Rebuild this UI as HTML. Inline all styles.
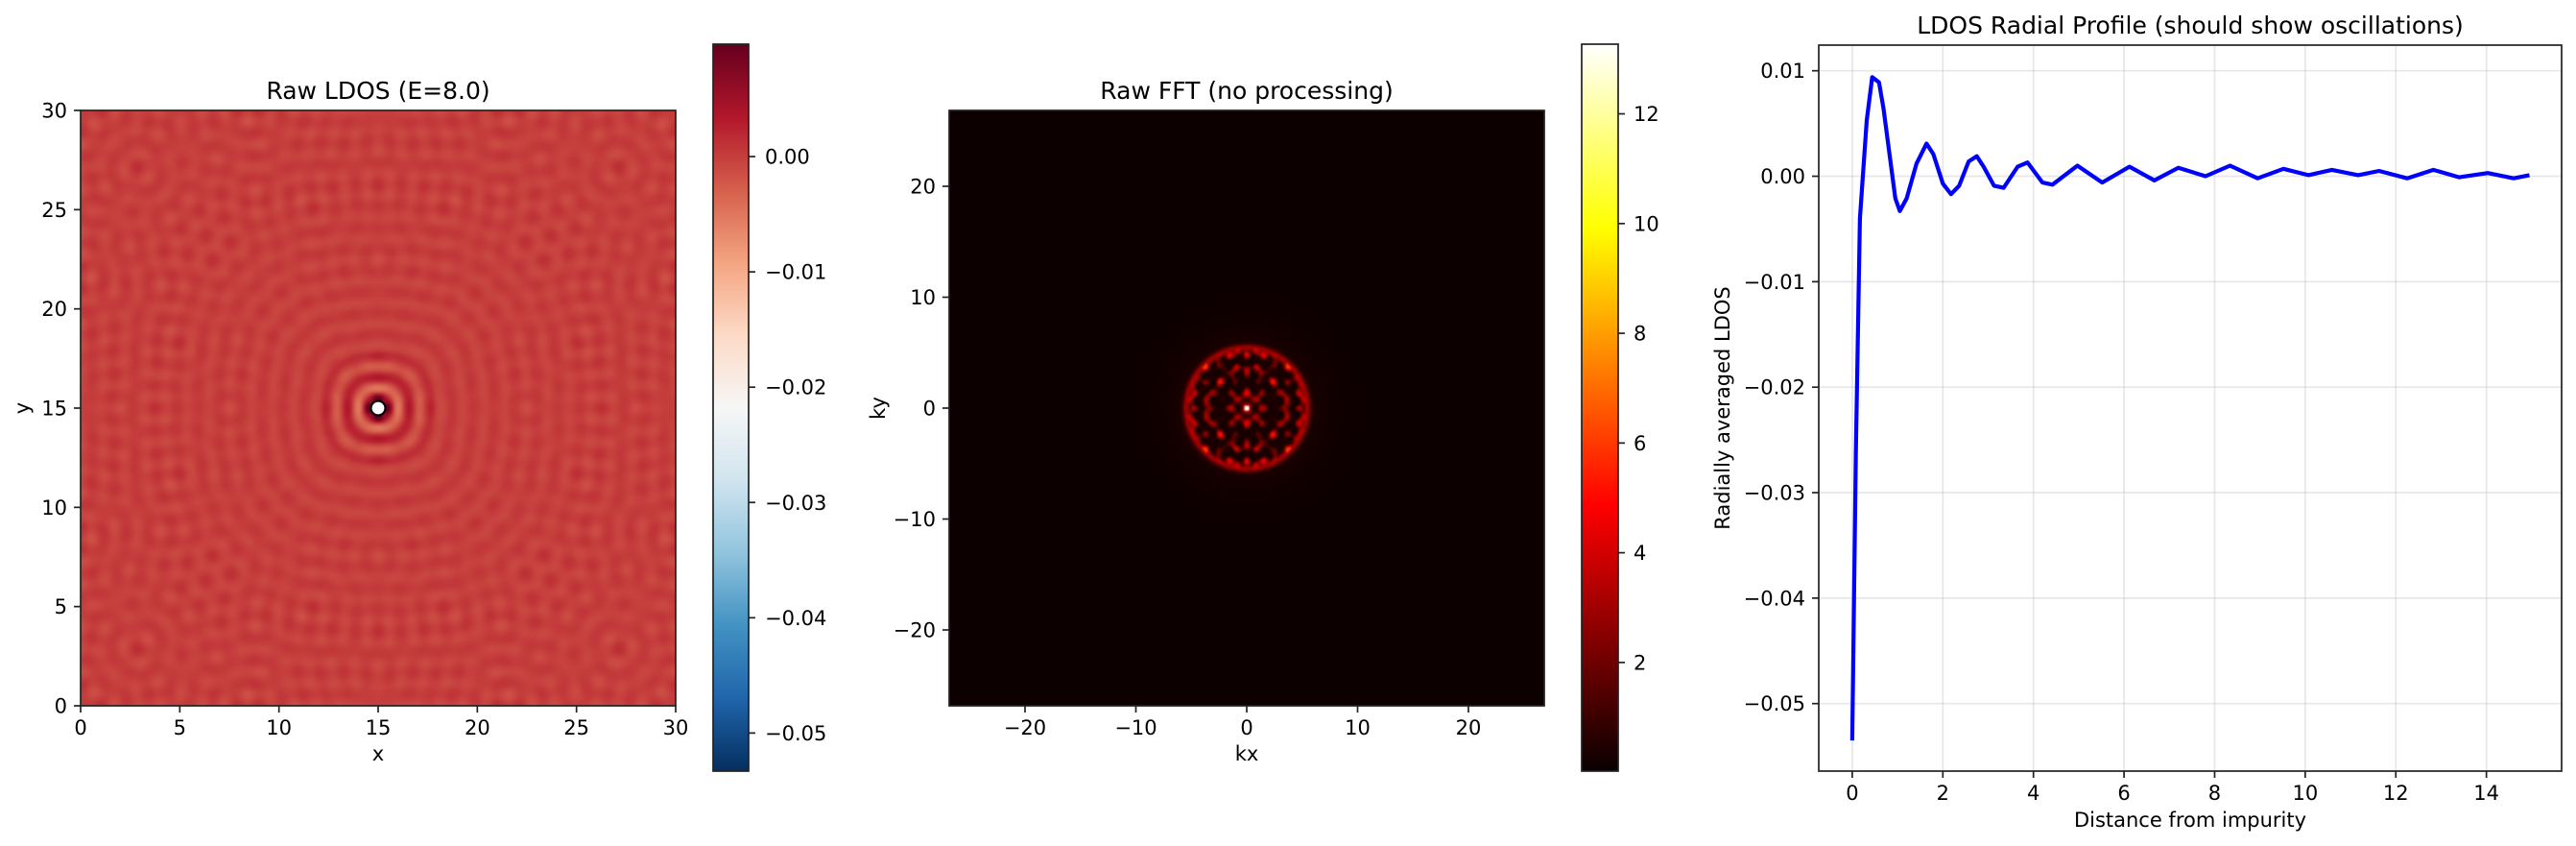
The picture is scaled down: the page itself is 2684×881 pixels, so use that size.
<!DOCTYPE html>
<html><head><meta charset="utf-8">
<style>
html,body{margin:0;padding:0;background:#fff;}
#fig{position:relative;width:2684px;height:881px;overflow:hidden;font-family:"DejaVu Sans","Liberation Sans",sans-serif;}
canvas{position:absolute;}
svg{position:absolute;left:0;top:0;}
</style></head>
<body>
<div id="fig">
<canvas id="c1" width="620" height="620" style="left:84px;top:115px;width:620px;height:620px"></canvas>
<canvas id="cb1" width="37" height="757" style="left:743px;top:46px;width:37px;height:757px"></canvas>
<canvas id="c2" width="620" height="620" style="left:989px;top:115px;width:620px;height:620px"></canvas>
<canvas id="cb2" width="38" height="757" style="left:1648px;top:46px;width:38px;height:757px"></canvas>
<svg id="s" width="2684" height="881"></svg>
</div>
<script>
// ---- data: radial profile ----
const radialDistance = [0,0.08,0.17,0.32,0.44,0.59,0.69,0.95,1.05,1.2,1.42,1.64,1.79,2.0,2.18,2.36,2.57,2.75,2.9,3.13,3.34,3.65,3.87,4.2,4.42,4.97,5.52,6.12,6.67,7.2,7.8,8.34,8.95,9.52,10.07,10.59,11.17,11.63,12.25,12.83,13.4,14.03,14.6,14.95];
const radialLDOS = [-0.0535,-0.026,-0.004,0.0053,0.0094,0.0089,0.0064,-0.0021,-0.0033,-0.0021,0.0012,0.0031,0.0021,-0.0007,-0.0017,-0.0009,0.0014,0.0019,0.0009,-0.0009,-0.0011,0.0009,0.0013,-0.0006,-0.0008,0.0010,-0.0006,0.0009,-0.0004,0.0008,0.0,0.0010,-0.0002,0.0007,0.0001,0.0006,0.0001,0.0005,-0.0002,0.0006,-0.0001,0.0003,-0.0002,0.0001];
const p3XTicks = [0,2,4,6,8,10,12,14];
const p3YTicks = [0.01,0.00,-0.01,-0.02,-0.03,-0.04,-0.05];
const p1Ticks = [0,5,10,15,20,25,30];
const p2Ticks = [-20,-10,0,10,20];
const cb1Ticks = [0.00,-0.01,-0.02,-0.03,-0.04,-0.05];
const cb2Ticks = [2,4,6,8,10,12];
const ldosRange = [-0.0533,0.00975];
const fftRange = [0.02,13.27];
const impurity = [15,15];
const boxSize = [30];
const fermiWave = [5.56];
const fermiRadiusK = [5.45];

const NS="http://www.w3.org/2000/svg";
const svg=document.getElementById('s');
function el(tag,attrs,parent){const e=document.createElementNS(NS,tag);for(const k in attrs)e.setAttribute(k,attrs[k]);(parent||svg).appendChild(e);return e;}
function txt(str,x,y,opts,parent){const t=el('text',Object.assign({x:x,y:y,'font-size':21,fill:'#000','font-family':'DejaVu Sans, Liberation Sans, sans-serif'},opts||{}),parent);t.textContent=str;return t;}
const fmt=(v,d)=>{const s=Math.abs(v).toFixed(d);return (v<0?'\u2212':'')+s;};

const P1={x0:84,x1:704,y0:115,y1:735,d0:0,d1:30};
const P2={x0:989,x1:1609,y0:115,y1:735,d0:-26.84,d1:26.84};
const P3={x0:1895,x1:2669,y0:47,y1:803,xd0:-0.74,xd1:15.66,yd0:-0.0564,yd1:0.01243};
const CB={y0:46,y1:803};
const sx=(P,v)=>P.x0+(v-P.d0)/(P.d1-P.d0)*(P.x1-P.x0);
const sy=(P,v)=>P.y1-(v-P.d0)/(P.d1-P.d0)*(P.y1-P.y0);
const x3=v=>P3.x0+(v-P3.xd0)/(P3.xd1-P3.xd0)*(P3.x1-P3.x0);
const y3=v=>P3.y1-(v-P3.yd0)/(P3.yd1-P3.yd0)*(P3.y1-P3.y0);
const cby=(r,v)=>CB.y1-(v-r[0])/(r[1]-r[0])*(CB.y1-CB.y0);

const rdbu=[[5,48,97],[33,102,172],[67,147,195],[146,197,222],[209,229,240],[247,247,247],[253,219,199],[244,165,130],[214,96,77],[178,24,43],[103,0,31]];
function rdbuR(t){t=Math.max(0,Math.min(1,t))*10;const i=Math.min(9,Math.floor(t)),f=t-i;const a=rdbu[i],b=rdbu[i+1];return [a[0]+(b[0]-a[0])*f,a[1]+(b[1]-a[1])*f,a[2]+(b[2]-a[2])*f];}
function hot(t){t=Math.max(0,Math.min(1,t));const r=Math.min(1,0.0416+t/0.365*0.9584),g=Math.max(0,Math.min(1,(t-0.365)/0.381)),b=Math.max(0,Math.min(1,(t-0.746)/0.254));return [r*255,g*255,b*255];}

// ---- panel 1 heatmap (Friedel oscillation model) ----
(function(){
  const N=240,c=document.getElementById('c1'),ctx=c.getContext('2d');
  const tmp=document.createElement('canvas');tmp.width=N;tmp.height=N;const tc=tmp.getContext('2d');
  const img=tc.createImageData(N,N);const L=boxSize[0],q=fermiWave[0];
  for(let j=0;j<N;j++){for(let i=0;i<N;i++){
    const x=(i+0.5)/N*L,y=L-(j+0.5)/N*L;let v=0;
    for(let a=-2;a<=2;a++)for(let b=-2;b<=2;b++){
      const dx=x-(impurity[0]+a*L),dy=y-(impurity[1]+b*L);const r=Math.hypot(dx,dy);const th=Math.atan2(dy,dx);
      const qq=q*(1+0.04*Math.cos(4*th));
      const amp=r<3?0.005/(r+0.05):Math.min(0.005/(r+0.05),0.0025/Math.sqrt(3*r));
      v+=amp*Math.cos(qq*r+3.45)*(1+0.3*Math.cos(4*th));
    }
    const col=rdbuR((v-ldosRange[0])/(ldosRange[1]-ldosRange[0]));const k=(j*N+i)*4;
    img.data[k]=col[0];img.data[k+1]=col[1];img.data[k+2]=col[2];img.data[k+3]=255;}}
  tc.putImageData(img,0,0);ctx.imageSmoothingEnabled=true;ctx.drawImage(tmp,0,0,620,620);
})();
(function(){
  const c=document.getElementById('cb1').getContext('2d');
  for(let y=0;y<757;y++){const col=rdbuR(1-y/756);c.fillStyle=`rgb(${col[0]|0},${col[1]|0},${col[2]|0})`;c.fillRect(0,y,37,1);}
  const c2=document.getElementById('cb2').getContext('2d');
  for(let y=0;y<757;y++){const col=hot(1-y/756);c2.fillStyle=`rgb(${col[0]|0},${col[1]|0},${col[2]|0})`;c2.fillRect(0,y,38,1);}
})();
// ---- panel 2 FFT heatmap ----
(function(){
  const N=256,c=document.getElementById('c2'),ctx=c.getContext('2d');
  const tmp=document.createElement('canvas');tmp.width=N;tmp.height=N;const tc=tmp.getContext('2d');
  const img=tc.createImageData(N,N);const K=P2.d1,R=fermiRadiusK[0];
  for(let j=0;j<N;j++)for(let i=0;i<N;i++){
    const kx=-K+(i+0.5)/N*2*K,ky=K-(j+0.5)/N*2*K;const k=Math.hypot(kx,ky);let v=0.05;
    if(k<R){const lace=Math.cos(4.1*kx)*Math.cos(4.1*ky)+0.8*Math.cos(2.6*(kx+ky))*Math.cos(2.6*(kx-ky))+0.6*Math.cos(1.5*k*k/3)+0.4*Math.cos(3.0*Math.abs(kx)+1.0*Math.abs(ky)*Math.abs(kx));
      v+=0.25+Math.max(0,lace)*2.1;
      v+=2.0*Math.exp(-(Math.pow(Math.abs(kx)-0.75,2)+Math.pow(Math.abs(ky)-0.75,2))/0.12);}
    v+=2.8*Math.exp(-Math.pow((k-R)/0.3,2));
    if(k>R)v+=0.35*Math.exp(-(k-R)/2.0);
    if(k<0.22)v=13.2;
    const col=hot((v-fftRange[0])/(fftRange[1]-fftRange[0]));const p=(j*N+i)*4;
    img.data[p]=col[0];img.data[p+1]=col[1];img.data[p+2]=col[2];img.data[p+3]=255;}
  tc.putImageData(img,0,0);ctx.imageSmoothingEnabled=true;ctx.drawImage(tmp,0,0,620,620);
})();

(function(){
  const g=el('g',{});
  const m=el('circle',{cx:sx(P1,impurity[0]),cy:sy(P1,impurity[1]),r:7.5,fill:'#fff',stroke:'#000','stroke-width':2.2},g);
  
  el('rect',{x:P1.x0,y:P1.y0,width:P1.x1-P1.x0,height:P1.y1-P1.y0,fill:'none',stroke:'#222','stroke-width':1.7},g);
  p1Ticks.forEach(v=>{const x=sx(P1,v);el('line',{x1:x,x2:x,y1:P1.y1,y2:P1.y1+7,stroke:'#222','stroke-width':1.7},g);
    const t=txt(String(v),x,765,{'text-anchor':'middle'},g);
    const y=sy(P1,v);el('line',{x1:P1.x0-7,x2:P1.x0,y1:y,y2:y,stroke:'#222','stroke-width':1.7},g);
    const t2=txt(String(v),P1.x0-14,y+7.5,{'text-anchor':'end'},g);});
  const t=txt('Raw LDOS (E=8.0)',394,103,{'text-anchor':'middle','font-size':25},g);
  const xl=txt('x',394,792,{'text-anchor':'middle'},g);
  const yl=txt('y',0,0,{'text-anchor':'middle',transform:'translate(30,425) rotate(-90)'},g);
  el('rect',{x:743,y:46,width:37,height:757,fill:'none',stroke:'#222','stroke-width':1.7},g);
  cb1Ticks.forEach(v=>{const y=cby(ldosRange,v);el('line',{x1:780,x2:787,y1:y,y2:y,stroke:'#222','stroke-width':1.7},g);
    const t=txt(fmt(v,2),797,y+7.5,{},g);});
})();
(function(){
  const g=el('g',{});
  el('rect',{x:P2.x0,y:P2.y0,width:P2.x1-P2.x0,height:P2.y1-P2.y0,fill:'none',stroke:'#222','stroke-width':1.7},g);
  p2Ticks.forEach(v=>{const x=sx(P2,v);el('line',{x1:x,x2:x,y1:P2.y1,y2:P2.y1+7,stroke:'#222','stroke-width':1.7},g);
    const t=txt(fmt(v,0),x,765,{'text-anchor':'middle'},g);
    const y=sy(P2,v);el('line',{x1:P2.x0-7,x2:P2.x0,y1:y,y2:y,stroke:'#222','stroke-width':1.7},g);
    const t2=txt(fmt(v,0),P2.x0-14,y+7.5,{'text-anchor':'end'},g);});
  const t=txt('Raw FFT (no processing)',1299,103,{'text-anchor':'middle','font-size':25},g);
  const xl=txt('kx',1299,792,{'text-anchor':'middle'},g);
  const yl=txt('ky',0,0,{'text-anchor':'middle',transform:'translate(922,425) rotate(-90)'},g);
  el('rect',{x:1648,y:46,width:38,height:757,fill:'none',stroke:'#222','stroke-width':1.7},g);
  cb2Ticks.forEach(v=>{const y=cby(fftRange,v);el('line',{x1:1686,x2:1693,y1:y,y2:y,stroke:'#222','stroke-width':1.7},g);
    const t=txt(String(v),1702,y+7.5,{},g);});
})();
(function(){
  const g=el('g',{});
  p3XTicks.forEach(v=>{const x=x3(v);const gl=el('line',{x1:x,x2:x,y1:P3.y0,y2:P3.y1,stroke:'#b0b0b0','stroke-opacity':0.3,'stroke-width':1.7},g);
    el('line',{x1:x,x2:x,y1:P3.y1,y2:P3.y1+7,stroke:'#222','stroke-width':1.7},g);
    const t=txt(String(v),x,833,{'text-anchor':'middle'},g);});
  p3YTicks.forEach(v=>{const y=y3(v);const gl=el('line',{x1:P3.x0,x2:P3.x1,y1:y,y2:y,stroke:'#b0b0b0','stroke-opacity':0.3,'stroke-width':1.7},g);
    el('line',{x1:P3.x0-7,x2:P3.x0,y1:y,y2:y,stroke:'#222','stroke-width':1.7},g);
    const t=txt(fmt(v,2),P3.x0-14,y+7.5,{'text-anchor':'end'},g);});
  const pts=radialDistance.map((r,i)=>x3(r).toFixed(1)+','+y3(radialLDOS[i]).toFixed(1)).join(' ');
  const line=el('polyline',{points:pts,fill:'none',stroke:'#0000ff','stroke-width':4.2,'stroke-linejoin':'round'},g);
  
  el('rect',{x:P3.x0,y:P3.y0,width:P3.x1-P3.x0,height:P3.y1-P3.y0,fill:'none',stroke:'#222','stroke-width':1.7},g);
  const t=txt('LDOS Radial Profile (should show oscillations)',2282,35,{'text-anchor':'middle','font-size':25},g);
  const xl=txt('Distance from impurity',2282,861,{'text-anchor':'middle'},g);
  const yl=txt('Radially averaged LDOS',0,0,{'text-anchor':'middle',transform:'translate(1802,425) rotate(-90)'},g);
})();
</script>
</body></html>
